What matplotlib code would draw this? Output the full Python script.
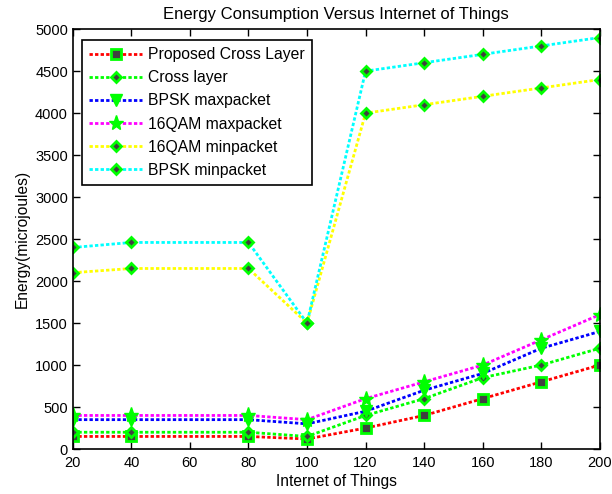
import matplotlib
matplotlib.use("Agg")
import matplotlib.pyplot as plt

plt.rcParams['font.family'] = ['Liberation Sans', 'DejaVu Sans']

# x positions (number of things)
things = [20, 40, 80, 100, 120, 140, 160, 180, 200]

# energy values (microjoules)
proposed_cross = [150, 150, 150, 120, 250, 400, 600, 800, 1000]
cross_layer = [200, 200, 200, 150, 400, 600, 850, 1000, 1200]
bpsk_max = [350, 350, 350, 300, 450, 700, 900, 1200, 1400]
qam16_max = [400, 400, 400, 350, 600, 800, 1000, 1300, 1600]
qam16_min = [2100, 2150, 2150, 1500, 4000, 4100, 4200, 4300, 4400]
bpsk_min = [2400, 2460, 2460, 1500, 4500, 4600, 4700, 4800, 4900]

series = [
    ("Proposed Cross Layer", proposed_cross, '#ff0000', 's', 7),
    ("Cross layer", cross_layer, '#00ff00', 'D', 5),
    ("BPSK maxpacket", bpsk_max, '#0000ff', 'v', 8),
    ("16QAM maxpacket", qam16_max, '#ff00ff', '*', 11),
    ("16QAM minpacket", qam16_min, '#ffff00', 'D', 5),
    ("BPSK minpacket", bpsk_min, '#00ffff', 'D', 5),
]

fig = plt.figure(figsize=(6.12, 4.94), dpi=100)
ax = fig.add_axes([0.119, 0.091, 0.861, 0.850])

for label, vals, color, marker, ms in series:
    ax.plot(things, vals, linestyle=(0, (1.2, 0.8)), linewidth=2, color=color,
            marker=marker, markersize=ms, markerfacecolor='#00ff00' if marker in ('*', 'v') else '#404040',
            markeredgecolor='#00ff00', markeredgewidth=2 if marker in ('s', 'D') else 1, label=label)

ax.set_xlim(20, 200)
ax.set_ylim(0, 5000)
ax.set_xticks(range(20, 201, 20))
ax.set_yticks(range(0, 5001, 500))
ax.tick_params(direction='in', top=True, right=True, labelsize=10.5, length=5, width=1)
ax.tick_params(axis='x', pad=5)
for sp in ax.spines.values():
    sp.set_linewidth(1.2)

ax.set_title("Energy Consumption Versus Internet of Things", fontsize=12, pad=7)
ax.set_xlabel("Internet of Things", fontsize=11.2, labelpad=3)
ax.set_ylabel("Energy(microjoules)", fontsize=11.2)

leg = ax.legend(loc='upper left', fontsize=11.3, fancybox=False, framealpha=1,
                edgecolor='black', borderpad=0.45, labelspacing=0.52, handlelength=3.4,
                handletextpad=0.4, borderaxespad=0, bbox_to_anchor=(0.017, 0.974))
leg.get_frame().set_linewidth(1.2)

fig.savefig("out.png", dpi=100)
